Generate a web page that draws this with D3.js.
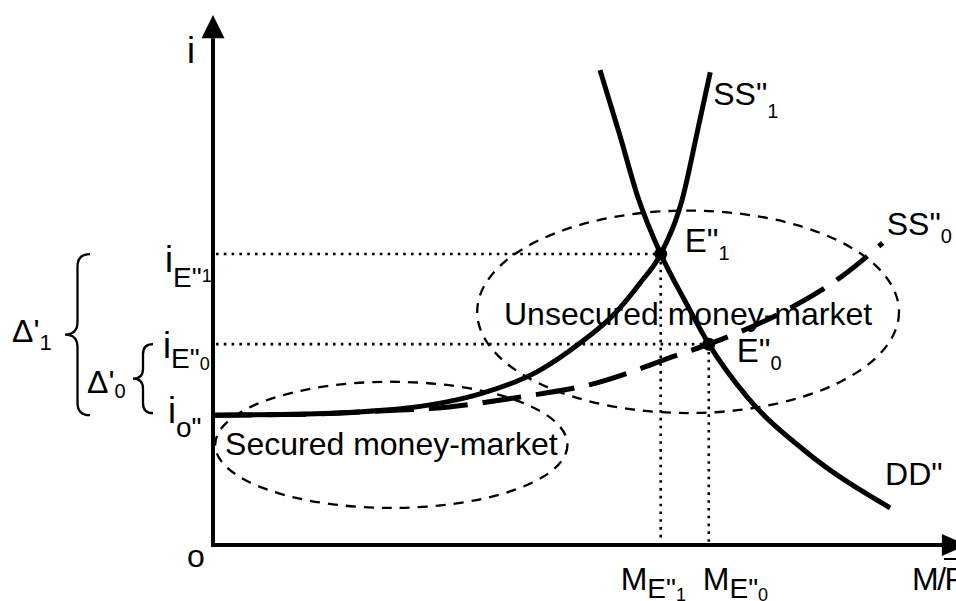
<!DOCTYPE html>
<html><head><meta charset="utf-8">
<script src="https://cdn.jsdelivr.net/npm/d3@7"></script>
<style>
body{margin:0;background:#fff}
svg{display:block}
text{font-family:"Liberation Sans",Arial,Helvetica,sans-serif;fill:#000}
</style>
</head><body>
<svg id="chart" width="956" height="601"></svg>
<script>
// ---------- data (abstract units: quantity 0-100, interest rate 0-100) ----------
const ss1Curve = [[0,24.5],[9.1,24.6],[18.0,25.0],[26.6,25.9],[31.6,27.0],[36.1,28.5],[44.2,33.0],[49.6,38.1],[54.1,43.4],[57.7,49.4],[60.5,54.9],[63.5,65.7],[65.5,78.3],[67.2,89.2]];
const ddCurve  = [[52.3,89.6],[54.9,77.7],[57.4,65.7],[60.5,54.9],[63.8,46.0],[67.0,37.9],[72.2,27.9],[80.3,17.4],[91.5,7.0]];
const ss0Curve = [[0,24.5],[13.5,24.7],[22.6,25.3],[31.6,26.0],[40.5,27.7],[51.9,30.6],[63.1,36.0],[67.0,37.9],[71.2,40.2],[78.0,44.7],[84.7,50.4],[90.5,57.0]];
const equilibriumNames = ["E\"", "E\""];
const equilibriumSubs  = ["1", "0"];
const equilibriumQ     = [60.5, 67.0];
const equilibriumI     = [54.9, 37.9];
const iOrigin = 24.5;
const marketLabels = ["Secured money-market", "Unsecured money-market"];
const marketCenterQ = [24.1, 64.2];
const marketCenterI = [18.9, 44.0];
const marketSpreadQ = [23.8, 28.5];
const marketSpreadI = [11.9, 19.1];
const curveLabels = ["SS\"", "SS\"", "DD\""];
const curveSubs   = ["1", "0", ""];
const yTickMain = ["i", "i", "i"];
const yTickSub  = ["E\"", "E\"", "o\""];
const yTickSub2 = ["1", "0", ""];
const xTickMain = ["M", "M"];
const xTickSub  = ["E\"", "E\""];
const xTickSub2 = ["1", "0"];
const spreadLabels = ["Δ'", "Δ'"];
const spreadSubs = ["1", "0"];

// ---------- scales ----------
const svg = d3.select("#chart");
const x = d3.scaleLinear().domain([0, 100]).range([213, 953]);
const y = d3.scaleLinear().domain([0, 100]).range([545, 15]);

// ---------- market ellipses ----------
svg.selectAll("ellipse.market").data(marketLabels).join("ellipse")
  .attr("class","market")
  .attr("cx", (d,i)=>x(marketCenterQ[i]))
  .attr("cy", (d,i)=>y(marketCenterI[i]))
  .attr("rx", (d,i)=>x(marketCenterQ[i]+marketSpreadQ[i]) - x(marketCenterQ[i]))
  .attr("ry", (d,i)=>y(marketCenterI[i]-marketSpreadI[i]) - y(marketCenterI[i]))
  .attr("fill","none").attr("stroke","#000").attr("stroke-width",2.3)
  .attr("stroke-dasharray","10 8");

// ---------- dotted guide lines ----------
equilibriumQ.forEach((q,i)=>{
  svg.append("line").attr("x1",x(0)+3).attr("x2",x(q)).attr("y1",y(equilibriumI[i])).attr("y2",y(equilibriumI[i]))
    .attr("stroke","#000").attr("stroke-width",2.6).attr("stroke-dasharray","2.6 5.2");
  svg.append("line").attr("x1",x(q)).attr("x2",x(q)).attr("y1",y(equilibriumI[i])).attr("y2",y(0)-3)
    .attr("stroke","#000").attr("stroke-width",2.6).attr("stroke-dasharray","2.6 5.2");
});

// ---------- curves ----------
const line = d3.line().x(d=>x(d[0])).y(d=>y(d[1])).curve(d3.curveMonotoneX);
svg.append("path").attr("d", line(ss0Curve)).attr("fill","none").attr("stroke","#000")
  .attr("stroke-width",5).attr("stroke-dasharray","39 15");
svg.append("path").attr("d", line(ss1Curve)).attr("fill","none").attr("stroke","#000").attr("stroke-width",5);
svg.append("path").attr("d", line(ddCurve)).attr("fill","none").attr("stroke","#000").attr("stroke-width",5);

// equilibrium points
svg.selectAll("circle.eq").data(equilibriumQ).join("circle").attr("class","eq")
  .attr("cx",(d)=>x(d)).attr("cy",(d,i)=>y(equilibriumI[i])).attr("r",6.5).attr("fill","#000");

// ---------- axes ----------
const ax = svg.append("g");
ax.append("line").attr("x1",x(0)).attr("x2",x(0)).attr("y1",y(0)+2).attr("y2",y(95.6))
  .attr("stroke","#000").attr("stroke-width",4);
ax.append("path").attr("d",`M${x(0)},${y(100)} L${x(0)-11.5},${y(95.6)} L${x(0)+11.5},${y(95.6)} Z`).attr("fill","#000");
ax.append("line").attr("x1",x(0)-2).attr("x2",x(98.6)).attr("y1",y(0)).attr("y2",y(0))
  .attr("stroke","#000").attr("stroke-width",4);
ax.append("path").attr("d",`M${x(101.8)},${y(0)} L${x(98.5)},${y(0)-11} L${x(98.5)},${y(0)+11} Z`).attr("fill","#000");

// ---------- text helper ----------
function rich(xPos, yPos, parts, anchor){
  const t = svg.append("text").attr("x",xPos).attr("y",yPos).attr("text-anchor",anchor||"start");
  let prev = 0;
  parts.forEach(p=>{
    if(!p[0]) return;
    t.append("tspan").attr("font-size",p[1]).attr("dy",p[2]-prev).text(p[0]);
    prev = p[2];
  });
  return t;
}

// axis titles
rich(187, 63, [["i",36,0]]);
rich(187, 567, [["o",32,0]]);
svg.append("text").attr("x",912).attr("y",590).attr("font-size",32).attr("letter-spacing",-1.5).text("M/P");
svg.append("line").attr("x1",944).attr("x2",958).attr("y1",559).attr("y2",559).attr("stroke","#000").attr("stroke-width",2);

// y tick labels
const yTickLevels = [equilibriumI[0], equilibriumI[1], iOrigin];
const yLay = [[165,18,33,28],[163,14,24,26],[168,8,22,8]];
yTickLevels.forEach((v,i)=>{
  const L = yLay[i];
  rich(L[0], y(v)+L[1], [[yTickMain[i],36,0],[yTickSub[i],28,L[2]-L[1]],[yTickSub2[i],18,L[3]-L[1]]]);
});

// x tick labels
const xLay = [-40, -6];
equilibriumQ.forEach((q,i)=>{
  rich(x(q)+xLay[i], 590, [[xTickMain[i],32,0],[xTickSub[i],28,8],[xTickSub2[i],18,11]]);
});

// spread labels + braces
function brace(xl, y0, y1, w){
  const xm = xl + w/2, ym = (y0+y1)/2, r = w/2;
  return `M${xl+w},${y0} Q${xm},${y0} ${xm},${y0+r} L${xm},${ym-r} Q${xm},${ym} ${xl},${ym} Q${xm},${ym} ${xm},${ym+r} L${xm},${y1-r} Q${xm},${y1} ${xl+w},${y1}`;
}
svg.append("path").attr("d",brace(65, y(equilibriumI[0]), y(iOrigin), 25)).attr("fill","none").attr("stroke","#000").attr("stroke-width",2.3);
svg.append("path").attr("d",brace(133, y(equilibriumI[1]), y(iOrigin)-2, 20)).attr("fill","none").attr("stroke","#000").attr("stroke-width",2.3);
rich(12, 342, [[spreadLabels[0],32,0],[spreadSubs[0],22,8]]);
rich(87, 393, [[spreadLabels[1],32,0],[spreadSubs[1],20,5]]);

// market labels
marketLabels.forEach((m,i)=>{
  svg.append("text").attr("x",x(marketCenterQ[i])).attr("y",y(marketCenterI[i])+(i===0?10:13))
    .attr("text-anchor","middle").attr("font-size",32).text(m);
});

// curve labels
rich(x(ss1Curve[ss1Curve.length-1][0])+3, 105, [[curveLabels[0],32,0],[curveSubs[0],20,13]]);
rich(x(ss0Curve[ss0Curve.length-1][0])+4, 235, [[curveLabels[1],32,0],[curveSubs[1],20,8]]);
rich(x(ddCurve[ddCurve.length-1][0])-5, 485, [[curveLabels[2],32,0]]);

// equilibrium labels
equilibriumQ.forEach((q,i)=>{
  const dx = i===0 ? 24 : 28;
  rich(x(q)+dx, y(equilibriumI[i])+(i===0?-2:18), [[equilibriumNames[i],33,0],[equilibriumSubs[i],20,8]]);
});
</script>
</body></html>
